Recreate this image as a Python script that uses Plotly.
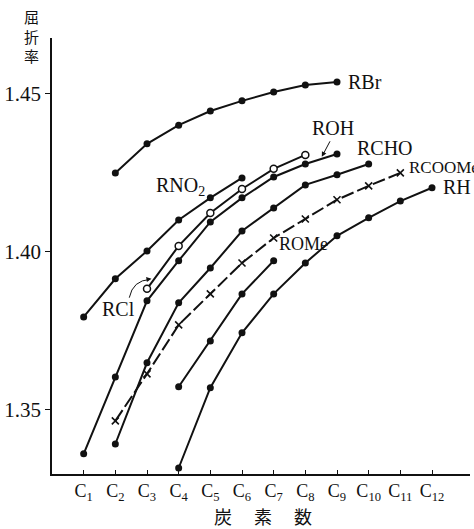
import plotly.graph_objects as go

# ---- data ----
carbon_ticks = list(range(1, 13))
carbon_labels = [f"C<sub>{i}</sub>" for i in carbon_ticks]
y_ticks = [1.35, 1.40, 1.45]
y_labels = ["1.35", "1.40", "1.45"]

rbr_x = [2, 3, 4, 5, 6, 7, 8, 9]
rbr_y = [1.4250, 1.4342, 1.4401, 1.4446, 1.4478, 1.4506, 1.4528, 1.4538]

rno2_x = [1, 2, 3, 4, 5, 6]
rno2_y = [1.3794, 1.3915, 1.4003, 1.4101, 1.4171, 1.4234]

rcl_x = [3, 4, 5, 6, 7, 8]
rcl_y = [1.3883, 1.4019, 1.4123, 1.4199, 1.4263, 1.4307]

roh_x = [1, 2, 3, 4, 5, 6, 7, 8, 9]
roh_y = [1.3361, 1.3604, 1.3845, 1.3972, 1.4095, 1.4171, 1.4237, 1.4278, 1.4310]

rcho_x = [2, 3, 4, 5, 6, 7, 8, 9, 10]
rcho_y = [1.3392, 1.3649, 1.3839, 1.3949, 1.4066, 1.4139, 1.4212, 1.4244, 1.4278]

rcoome_x = [2, 3, 4, 5, 6, 7, 8, 9, 10, 11]
rcoome_y = [1.3465, 1.3614, 1.3769, 1.3867, 1.3965, 1.4044, 1.4104, 1.4165, 1.4209, 1.4250]

rome_x = [4, 5, 6, 7]
rome_y = [1.3573, 1.3718, 1.3867, 1.3972]

rh_x = [4, 5, 6, 7, 8, 9, 10, 11, 12]
rh_y = [1.3316, 1.3570, 1.3744, 1.3867, 1.3965, 1.4051, 1.4108, 1.4161, 1.4203]

y_title = "屈<br>折<br>率"
x_title = "炭　 素 　数"

SERIF = "Liberation Serif, Times New Roman, serif"
CJK = "Noto Sans CJK JP"
BLACK = "#111111"

fig = go.Figure()

def solid(x, y, name):
    fig.add_trace(go.Scatter(x=x, y=y, name=name, mode="lines+markers",
                             line=dict(color=BLACK, width=2),
                             marker=dict(symbol="circle", size=7, color=BLACK),
                             cliponaxis=False))

solid(rbr_x, rbr_y, "RBr")
solid(rno2_x, rno2_y, "RNO2")
solid(roh_x, roh_y, "ROH")
solid(rcho_x, rcho_y, "RCHO")
solid(rome_x, rome_y, "ROMe")
solid(rh_x, rh_y, "RH")

fig.add_trace(go.Scatter(x=rcl_x, y=rcl_y, name="RCl", mode="lines+markers",
                         line=dict(color=BLACK, width=2),
                         marker=dict(symbol="circle", size=7, color="white",
                                     line=dict(color=BLACK, width=1.5)),
                         cliponaxis=False))

fig.add_trace(go.Scatter(x=rcoome_x, y=rcoome_y, name="RCOOMe", mode="lines+markers",
                         line=dict(color=BLACK, width=2, dash="13px,4px"),
                         marker=dict(symbol="x-thin", size=7,
                                     line=dict(color=BLACK, width=1.6)),
                         cliponaxis=False))

def label(text, x, y, anchor="left", size=20):
    fig.add_annotation(x=x, y=y, text=text, showarrow=False, xanchor=anchor,
                       yanchor="middle", font=dict(family=SERIF, size=size, color=BLACK))

label("RBr", 9.27, 1.4538)
label("ROH", 8.86, 1.4392, "center")
label("RCHO", 10.53, 1.4329, "center")
label("RCOOMe", 11.22, 1.4266, size=17)
label("RH", 12.29, 1.4206)
label("RNO<sub>2</sub>", 3.23, 1.4206)
label("RCl", 2.10, 1.3820, "center")
label("ROMe", 7.10, 1.4025, size=18)

# ROH arrow
fig.add_annotation(x=8.52, y=1.4301, ax=9, ay=-17, text="", showarrow=True,
                   arrowhead=2, arrowsize=1, arrowwidth=1, arrowcolor=BLACK)
# RCl curved arrow
fig.add_shape(type="path", path="M 2.44,1.3855 Q 2.55,1.3910 3.10,1.3913",
              line=dict(color=BLACK, width=1))
fig.add_annotation(x=3.14, y=1.3915, ax=-6, ay=1, text="", showarrow=True,
                   arrowhead=2, arrowsize=1, arrowwidth=1, arrowcolor=BLACK)

# axis titles
fig.add_annotation(xref="paper", yref="paper", x=-0.048, y=1.0046, yanchor="middle",
                   xanchor="center", text=y_title, showarrow=False,
                   font=dict(family=CJK, size=15, color=BLACK))
fig.add_annotation(xref="paper", yref="paper", x=0.505, y=-0.097, yanchor="middle",
                   xanchor="center", text=x_title, showarrow=False,
                   font=dict(family=CJK, size=18, color=BLACK))

fig.update_layout(
    width=474, height=529,
    margin=dict(l=50, r=4, t=38, b=55),
    paper_bgcolor="white", plot_bgcolor="white",
    showlegend=False,
    xaxis=dict(range=[0, 13.2], tickvals=carbon_ticks, ticktext=carbon_labels,
               showgrid=False, zeroline=False, showline=True, linecolor=BLACK,
               linewidth=1.5, ticks="inside", ticklen=4, tickcolor=BLACK,
               tickfont=dict(family=SERIF, size=18, color=BLACK)),
    yaxis=dict(range=[1.3297, 1.4677], tickvals=y_ticks, ticktext=y_labels,
               showgrid=False, zeroline=False, showline=True, linecolor=BLACK,
               linewidth=1.5, ticks="outside", ticklen=5, tickcolor=BLACK,
               tickfont=dict(family=SERIF, size=21, color=BLACK)),
)

fig.write_html("out.html")
